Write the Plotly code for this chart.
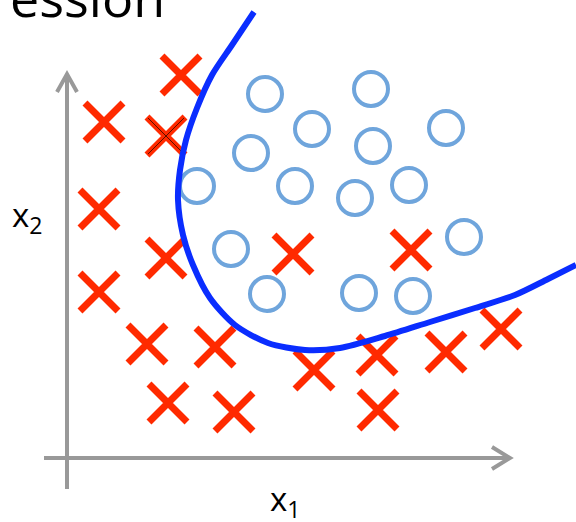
import plotly.graph_objects as go

# Data (coordinates on the chart plane; y grows downward)
cross_x = [181, 104, 99, 166, 293, 411, 99, 147, 215, 314, 377, 446, 501, 168, 234, 378]
cross_y = [75, 122, 209, 258, 254, 250, 292, 344, 347, 370, 355, 352, 329, 403, 412, 410]
marked_cross_x = [166]
marked_cross_y = [136]
circle_x = [265, 371, 312, 446, 251, 373, 197, 295, 355, 409, 231, 464, 267, 359, 413]
circle_y = [94, 89, 129, 128, 153, 146, 186, 186, 198, 185, 249, 237, 294, 293, 296]
boundary_x = [254, 232, 212, 197, 186, 180, 178, 183, 193, 210, 235, 268, 305, 340, 385, 430, 475, 515, 548, 576]
boundary_y = [12, 45, 75, 108, 140, 170, 200, 235, 265, 298, 325, 343, 350, 348, 336, 322, 308, 295, 279, 265]

RED = "#ff2a00"
BLUE_PT = "#6fa5dc"
BLUE_LINE = "#0a2dff"
GRAY = "#999999"

fig = go.Figure()

fig.add_trace(go.Scatter(
    x=circle_x, y=circle_y, mode="markers",
    marker=dict(symbol="circle-open", size=34, color=BLUE_PT, line=dict(width=4, color=BLUE_PT)),
    hoverinfo="skip", showlegend=False))

fig.add_trace(go.Scatter(
    x=cross_x + marked_cross_x, y=cross_y + marked_cross_y, mode="markers",
    marker=dict(symbol="x-thin", size=38, color=RED, line=dict(width=7, color=RED)),
    hoverinfo="skip", showlegend=False))

fig.add_trace(go.Scatter(
    x=marked_cross_x, y=marked_cross_y, mode="markers",
    marker=dict(symbol="x-thin", size=36, color="#5a1000", line=dict(width=1, color="#5a1000")),
    hoverinfo="skip", showlegend=False))

fig.add_trace(go.Scatter(
    x=boundary_x, y=boundary_y, mode="lines",
    line=dict(color=BLUE_LINE, width=6, shape="spline", smoothing=0.8),
    hoverinfo="skip", showlegend=False))

# axes with arrow heads
shapes = [
    dict(type="line", x0=67, y0=489, x1=67, y1=74, line=dict(color=GRAY, width=4)),
    dict(type="path", path="M 57 92 L 67 74 L 77 92", line=dict(color=GRAY, width=4)),
    dict(type="line", x0=44, y0=458, x1=510, y1=458, line=dict(color=GRAY, width=4)),
    dict(type="path", path="M 492 447 L 510 458 L 492 469", line=dict(color=GRAY, width=4)),
]

annotations = [
    dict(x=8, y=34, text="ession", showarrow=False, xanchor="left", yanchor="bottom",
         font=dict(family="Open Sans", size=52, color="black")),
    dict(x=10, y=216, text="x<sub>2</sub>", showarrow=False, xanchor="left", yanchor="middle",
         font=dict(family="Open Sans", size=33, color="black")),
    dict(x=268, y=500, text="x<sub>1</sub>", showarrow=False, xanchor="left", yanchor="middle",
         font=dict(family="Open Sans", size=33, color="black")),
]

fig.update_layout(
    width=576, height=522,
    margin=dict(l=0, r=0, t=0, b=0),
    paper_bgcolor="white", plot_bgcolor="white",
    xaxis=dict(range=[0, 576], visible=False, fixedrange=True),
    yaxis=dict(range=[522, 0], visible=False, fixedrange=True),
    shapes=shapes, annotations=annotations,
)

fig.write_html("out.html", config={"displayModeBar": False},
               post_script="document.body.style.margin='0px';document.body.style.overflow='hidden';")
